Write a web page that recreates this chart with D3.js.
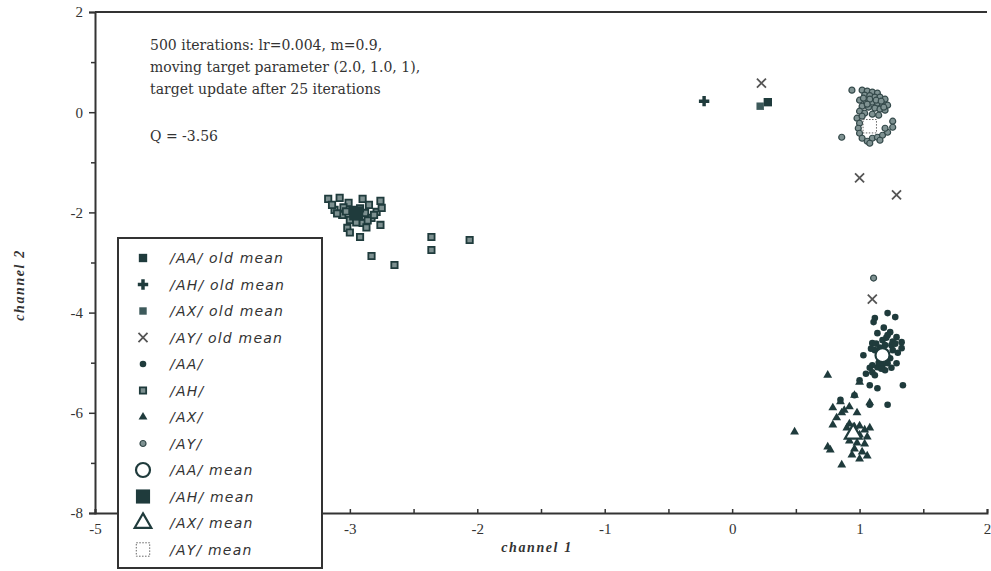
<!DOCTYPE html>
<html>
<head>
<meta charset="utf-8">
<script src="https://cdn.jsdelivr.net/npm/d3@7"></script>
<style>
  body { margin: 0; background: #fff; }
  svg { display: block; }
  .tick text { font-family: "Liberation Serif", "DejaVu Serif", serif; font-size: 15px; fill: #333; }
</style>
</head>
<body>
<div id="main-content"></div>
<script>
// category labels and means
const legendLabels = ["/AA/ old mean", "/AH/ old mean", "/AX/ old mean", "/AY/ old mean",
  "/AA/", "/AH/", "/AX/", "/AY/", "/AA/ mean", "/AH/ mean", "/AX/ mean", "/AY/ mean"];

const xTicks = [-5, -3, -2, -1, 0, 1, 2];
const yTicks = [2, 0, -2, -4, -6, -8];

const noteLines = ["500 iterations: lr=0.004, m=0.9,",
  "moving target parameter (2.0, 1.0, 1),",
  "target update after 25 iterations"];
const noteQ = "Q = -3.56";

// old means [x, y]
const aaOld = [[0.28, 0.20]];
const ahOld = [[-0.22, 0.22]];
const axOld = [[0.22, 0.12]];
const ayOld = [[0.23, 0.58], [1.00, -1.31], [1.29, -1.65], [1.10, -3.73]];

// current means
const aaMean = [[1.18, -4.85]];
const ahMean = [[-2.95, -2.02]];
const axMean = [[0.95, -6.42]];
const ayMean = [[1.08, -0.28]];

// data points
const aaPts = [[1.12,-4.11],[1.22,-4.01],[1.28,-4.09],[1.11,-4.19],[1.14,-4.41],[1.24,-4.39],[1.29,-4.49],
  [1.33,-4.59],[1.25,-4.65],[1.10,-4.61],[1.33,-4.71],[1.12,-4.75],[1.03,-4.85],[1.24,-4.91],[1.29,-5.01],
  [1.22,-5.01],[1.14,-5.09],[1.20,-5.15],[1.10,-5.19],[1.12,-5.25],[1.00,-5.35],[1.08,-5.45],[1.14,-5.51],
  [1.34,-5.45],[0.96,-5.65],[0.85,-5.74],[1.08,-5.84],[1.22,-5.84],[1.18,-4.55],[1.20,-4.65],[1.16,-4.70],
  [1.26,-4.75],[1.15,-5.00],[1.18,-5.05],[1.08,-5.10],[1.30,-4.80],[1.22,-4.45],[1.19,-4.30],[1.21,-4.50],
  [1.26,-4.58],[1.13,-4.62],[1.09,-4.72],[1.28,-4.62],[1.17,-5.12],[1.10,-5.05],[1.05,-5.22],[1.25,-5.10]];

const ahPts = [[-3.17,-1.73],[-3.08,-1.71],[-2.90,-1.73],[-3.01,-1.81],[-3.12,-1.95],[-3.06,-2.05],[-2.98,-1.95],
  [-2.94,-2.09],[-2.88,-2.01],[-2.83,-2.11],[-2.90,-2.21],[-2.79,-1.99],[-2.75,-1.91],[-2.76,-2.25],[-3.02,-2.31],
  [-2.92,-2.49],[-2.83,-2.87],[-2.65,-3.05],[-2.36,-2.49],[-2.36,-2.75],[-2.06,-2.55],[-2.76,-1.77],[-3.05,-1.90],
  [-2.97,-2.00],[-3.00,-2.15],[-2.92,-1.92],[-2.85,-1.85],[-3.10,-2.02],[-2.95,-2.20],[-2.87,-2.30],[-3.14,-1.85],
  [-3.03,-1.98],[-2.86,-2.16],[-2.81,-2.05],[-3.00,-2.40]];

const axPts = [[0.75,-5.25],[1.00,-5.39],[0.96,-5.65],[0.85,-5.78],[0.79,-5.90],[0.92,-5.88],[0.86,-6.00],
  [1.08,-5.80],[0.98,-6.00],[0.79,-6.24],[0.49,-6.38],[0.75,-6.68],[0.77,-6.74],[0.86,-7.04],[0.92,-6.22],
  [0.96,-6.28],[1.00,-6.26],[1.04,-6.34],[0.94,-6.40],[1.00,-6.44],[1.06,-6.48],[0.92,-6.56],[0.98,-6.60],
  [1.04,-6.62],[0.96,-6.72],[1.02,-6.78],[1.06,-6.86],[0.94,-6.84],[1.00,-6.92],[0.90,-6.30],[1.08,-6.30],
  [0.88,-5.95],[0.82,-6.10]];

const ayPts = [[1.02,0.44],[1.06,0.42],[1.10,0.40],[1.14,0.38],[1.04,0.34],[1.08,0.33],[1.12,0.30],[1.16,0.30],
  [1.20,0.26],[1.00,0.24],[1.05,0.22],[1.10,0.20],[1.14,0.18],[1.18,0.16],[1.22,0.14],[1.02,0.12],[1.07,0.10],
  [1.12,0.08],[1.16,0.06],[1.20,0.04],[1.00,0.02],[1.04,-0.02],[1.10,-0.04],[1.15,-0.06],[0.98,-0.12],
  [1.00,-0.22],[0.99,-0.32],[1.00,-0.42],[1.02,-0.52],[1.06,-0.58],[1.10,-0.52],[1.14,-0.50],[1.18,-0.46],
  [1.22,-0.40],[1.26,-0.30],[1.20,-0.32],[0.94,0.44],[0.86,-0.50],[1.26,-0.18],[1.11,-3.31],[1.08,0.26],
  [1.13,0.24],[1.03,0.28],[1.17,0.22],[1.06,0.16],[1.19,0.10],[1.02,-0.08],[1.08,-0.62],[1.16,-0.56]];

const width = 991, height = 571;
const ink = "#1f3b3c";

const svg = d3.select("#main-content").append("svg")
  .attr("width", width).attr("height", height);

const x = d3.scaleLinear().domain([-5, 2]).range([95, 987]);
const y = d3.scaleLinear().domain([-8, 2]).range([513, 12]);

// frame: top line and axes
svg.append("line").attr("x1", x(-5)).attr("x2", x(2)).attr("y1", y(2)).attr("y2", y(2))
  .attr("stroke", "#333").attr("stroke-width", 2);

const xAxis = svg.append("g").attr("transform", `translate(0,${y(-8)})`)
  .call(d3.axisBottom(x).tickValues(d3.range(-5, 2.01, 0.5)).tickSize(-4)
    .tickFormat(d => xTicks.includes(d) ? d : ""));
xAxis.selectAll(".tick text").attr("dy", "1.2em");

const yAxis = svg.append("g").attr("transform", `translate(${x(-5)},0)`)
  .call(d3.axisLeft(y).tickValues(d3.range(-8, 2.01, 1)).tickSize(6)
    .tickFormat(d => yTicks.includes(d) ? d : ""));
yAxis.selectAll(".tick text").attr("x", -12);

[xAxis, yAxis].forEach(a => {
  a.select(".domain").attr("stroke", "#333").attr("stroke-width", 2);
  a.selectAll(".tick line").attr("stroke", "#333").attr("stroke-width", 1.5);
});
yAxis.selectAll(".tick").filter(d => !yTicks.includes(d)).select("line").attr("x2", -4);

// axis titles
svg.append("text").attr("x", 537).attr("y", 552).attr("text-anchor", "middle")
  .style("font-family", "Liberation Serif, serif").style("font-style", "italic")
  .style("font-weight", "bold").style("font-size", "14px").attr("fill", "#333")
  .attr("letter-spacing", "1.6px").text("channel  1");
svg.append("text").attr("transform", "translate(24,285) rotate(-90)").attr("text-anchor", "middle")
  .style("font-family", "Liberation Serif, serif").style("font-style", "italic")
  .style("font-weight", "bold").style("font-size", "14px").attr("fill", "#333")
  .attr("letter-spacing", "1.6px").text("channel  2");

// annotation
const note = svg.append("text").style("font-family", "DejaVu Serif, serif")
  .style("font-size", "14px").attr("fill", "#333");
noteLines.forEach((t, i) => note.append("tspan").attr("x", 150).attr("y", 50 + i * 22).text(t));
svg.append("text").attr("x", 150).attr("y", 141).style("font-family", "DejaVu Serif, serif")
  .style("font-size", "14px").attr("fill", "#333").text(noteQ);

// symbol painters
function sym(type, size) { return d3.symbol().type(type).size(size)(); }

const painters = {
  aaOld: g => g.append("path").attr("d", sym(d3.symbolSquare, 70)).attr("fill", ink),
  ahOld: g => g.append("path").attr("d", sym(d3.symbolCross, 60)).attr("fill", ink),
  axOld: g => g.append("path").attr("d", sym(d3.symbolSquare, 55)).attr("fill", "#3d5a5b"),
  ayOld: g => g.append("path").attr("d", sym(d3.symbolX, 55)).attr("fill", "none")
    .attr("stroke", "#555").attr("stroke-width", 1.8),
  aa: g => g.append("circle").attr("r", 3.3).attr("fill", ink),
  ah: g => g.append("path").attr("d", sym(d3.symbolSquare, 40)).attr("fill", "#7d9090")
    .attr("stroke", ink).attr("stroke-width", 1.8),
  ax: g => g.append("path").attr("d", sym(d3.symbolTriangle, 34)).attr("fill", ink),
  ay: g => g.append("circle").attr("r", 3).attr("fill", "#7f9292").attr("stroke", "#34494a").attr("stroke-width", 1.2),
  aaMean: g => g.append("circle").attr("r", 7).attr("fill", "#fff").attr("stroke", ink).attr("stroke-width", 2.2),
  ahMean: g => g.append("path").attr("d", sym(d3.symbolSquare, 200)).attr("fill", ink),
  axMean: g => g.append("path").attr("d", sym(d3.symbolTriangle, 120)).attr("fill", "#fff")
    .attr("stroke", ink).attr("stroke-width", 2.2),
  ayMean: g => g.append("path").attr("d", sym(d3.symbolSquare, 180)).attr("fill", "#fff")
    .attr("stroke", "#666").attr("stroke-width", 1).attr("stroke-dasharray", "1.5,1.5")
};

function plot(data, key) {
  data.forEach(d => {
    const g = svg.append("g").attr("transform", `translate(${x(d[0])},${y(d[1])})`);
    painters[key](g);
  });
}

plot(ahPts, "ah");
plot(ayPts, "ay");
plot(aaPts, "aa");
plot(axPts, "ax");
plot(aaOld, "aaOld");
plot(axOld, "axOld");
plot(ahOld, "ahOld");
plot(ayOld, "ayOld");
plot(ahMean, "ahMean");
plot(aaMean, "aaMean");
plot(axMean, "axMean");
plot(ayMean, "ayMean");

// legend
const legendKeys = ["aaOld", "ahOld", "axOld", "ayOld", "aa", "ah", "ax", "ay", "aaMean", "ahMean", "axMean", "ayMean"];
const legend = svg.append("g");
legend.append("rect").attr("x", 118).attr("y", 238).attr("width", 204).attr("height", 330)
  .attr("fill", "#fff").attr("stroke", "#333").attr("stroke-width", 2);
legendLabels.forEach((lab, i) => {
  const ly = 258 + i * 26.5;
  const g = legend.append("g").attr("transform", `translate(143,${ly})`);
  painters[legendKeys[i]](g);
  legend.append("text").attr("x", 170).attr("y", ly + 5)
    .style("font-family", "DejaVu Sans, sans-serif").style("font-style", "italic")
    .style("font-size", "14px").attr("fill", "#333").attr("letter-spacing", "1.2px").text(lab);
});
</script>
</body>
</html>
